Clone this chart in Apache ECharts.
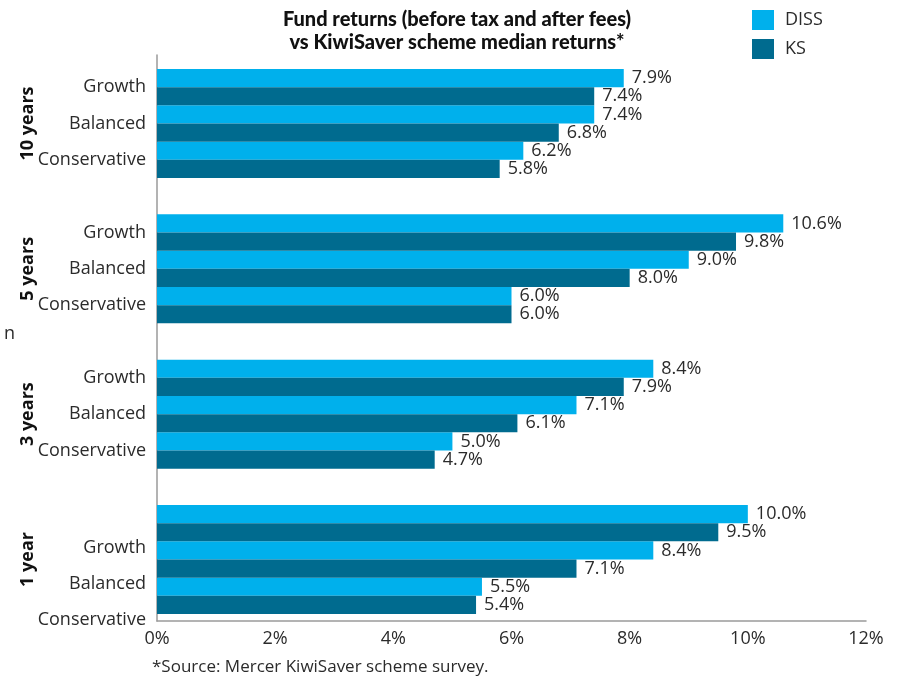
<!DOCTYPE html>
<html><head><meta charset="utf-8">
<script src="https://cdn.jsdelivr.net/npm/echarts@6/dist/echarts.min.js"></script>
<style>html,body{margin:0;padding:0;background:#fff}#c{width:905px;height:681px}</style>
</head><body><div id="c"></div>
<script>
// categories (spacer slots between period groups are blank)
const categories = ['Growth','Balanced','Conservative','', 'Growth','Balanced','Conservative','', 'Growth','Balanced','Conservative','', 'Growth','Balanced','Conservative'];
const groupLabels = ['10 years','5 years','3 years','1 year'];
const dissValues = [7.9, 7.4, 6.2, null, 10.6, 9.0, 6.0, null, 8.4, 7.1, 5.0, null, 10.0, 8.4, 5.5];
const ksValues   = [7.4, 6.8, 5.8, null, 9.8, 8.0, 6.0, null, 7.9, 6.1, 4.7, null, 9.5, 7.1, 5.4];
const xTicks = [0, 2, 4, 6, 8, 10, 12];
const titleText = 'Fund returns (before tax and after fees)\nvs KiwiSaver scheme median returns*';
const footText = '*Source: Mercer KiwiSaver scheme survey.';

const FONT = 'Open Sans';
const TXT = '#2b2b2b';
const groupCenters = [1.5, 5.5, 9.5, 13.5];

const chart = echarts.init(document.getElementById('c'), null, { renderer: 'canvas' });
chart.setOption({
  animation: false,
  textStyle: { fontFamily: FONT },
  title: [
    { text: titleText, left: 457, textAlign: 'center', top: 8, padding: 0,
      textStyle: { fontFamily: 'Lato', fontWeight: 900, fontSize: 20, lineHeight: 23, color: '#111' } },
    { text: footText, left: 152, top: 659, padding: 0,
      textStyle: { fontFamily: FONT, fontWeight: 'normal', fontSize: 17, color: TXT } }
  ],
  legend: {
    orient: 'vertical', left: 752, top: 10, padding: 0, icon: 'rect', itemWidth: 22, itemHeight: 20, itemGap: 9,
    textStyle: { fontSize: 18, color: TXT, fontFamily: FONT, padding: [0, 0, 0, 6] },
    data: ['DISS', 'KS']
  },
  grid: [
    { left: 157, right: 39, top: 55, bottom: 60 },
    { left: 157, right: 39, top: 69, bottom: 67 }
  ],
  xAxis: [
    { type: 'value', gridIndex: 0, min: 0, max: 12, interval: 2,
      axisLine: { show: true, lineStyle: { color: '#9a9a9a', width: 1.5 } },
      axisTick: { show: false }, splitLine: { show: false },
      axisLabel: { formatter: v => xTicks.includes(v) ? v + '%' : '', fontSize: 18, color: TXT, margin: 9 } },
    { type: 'value', gridIndex: 1, min: 0, max: 12, show: false }
  ],
  yAxis: [
    { type: 'value', gridIndex: 0, min: 0, max: 1,
      axisLine: { show: true, lineStyle: { color: '#9a9a9a', width: 1.5 } },
      axisTick: { show: false }, splitLine: { show: false }, axisLabel: { show: false } },
    { type: 'category', gridIndex: 1, data: categories, inverse: true,
      axisLine: { show: false }, axisTick: { show: false },
      axisLabel: { fontSize: 18, color: TXT, margin: 11,
        formatter: (v, i) => i >= 12 ? '{low|' + v + '}' : v,
        rich: { low: { fontSize: 18, color: TXT, fontFamily: FONT, padding: [49, 0, 0, 0] } } } },
    { type: 'value', gridIndex: 1, min: 0, max: 15, interval: 0.5, inverse: true, position: 'left', offset: 120,
      axisLine: { show: false }, axisTick: { show: false }, splitLine: { show: false },
      axisLabel: { rotate: 90, margin: 0, fontSize: 18, fontWeight: 'bold', color: '#111',
        formatter: v => { const k = groupCenters.indexOf(v); return k >= 0 ? groupLabels[k] : ''; } } }
  ],
  series: [
    { name: 'DISS', type: 'bar', xAxisIndex: 1, yAxisIndex: 1, data: dissValues,
      barGap: '0%', barCategoryGap: '0%', itemStyle: { color: '#00B0EC' },
      label: { show: true, position: 'right', distance: 8, fontSize: 18, color: TXT,
        formatter: p => p.value == null ? '' : p.value.toFixed(1) + '%' } },
    { name: 'KS', type: 'bar', xAxisIndex: 1, yAxisIndex: 1, data: ksValues,
      barGap: '0%', barCategoryGap: '0%', itemStyle: { color: '#006B8F' },
      label: { show: true, position: 'right', distance: 8, fontSize: 18, color: TXT,
        formatter: p => p.value == null ? '' : p.value.toFixed(1) + '%' } }
  ],
  graphic: [
    { type: 'text', left: 4, top: 325, style: { text: 'n', fontSize: 18, fill: TXT, fontFamily: FONT } }
  ]
});
</script></body></html>
